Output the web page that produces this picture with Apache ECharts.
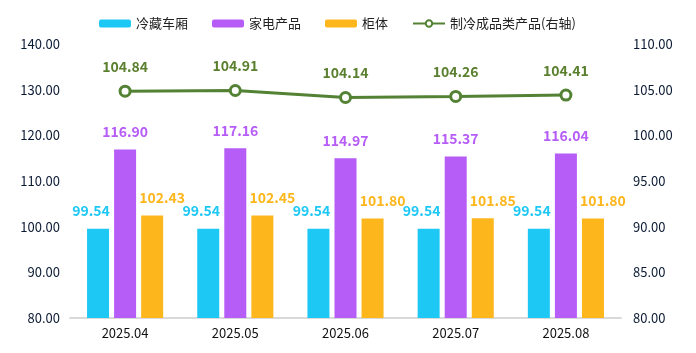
<!DOCTYPE html>
<html><head><meta charset="utf-8">
<script src="https://cdn.jsdelivr.net/npm/echarts@6/dist/echarts.min.js"></script>
<style>html,body{margin:0;padding:0;background:#fff}#c{width:696px;height:353px}</style>
</head><body><div id="c"></div>
<script>
const categories = ['2025.04','2025.05','2025.06','2025.07','2025.08'];
const coldTruck = [99.54, 99.54, 99.54, 99.54, 99.54];
const appliances = [116.90, 117.16, 114.97, 115.37, 116.04];
const cabinets = [102.43, 102.45, 101.80, 101.85, 101.80];
const refrigTotal = [104.84, 104.91, 104.14, 104.26, 104.41];
const leftTicks = {min: 80, max: 140, interval: 10};
const rightTicks = {min: 80, max: 110, interval: 5};

const font = '"Microsoft YaHei","Noto Sans CJK SC",sans-serif';
const chart = echarts.init(document.getElementById('c'));
function barLabel(color, dx){
  return {show:true, position:'top', distance:11, offset:[dx,0], color:color, fontWeight:'bold', fontSize:14, fontFamily:font,
    formatter:p=>p.value.toFixed(2)};
}
chart.setOption({
  animation:false,
  textStyle:{fontFamily:font},
  legend:{top:12, left:94, itemWidth:32, itemHeight:8, itemGap:24,
    textStyle:{fontSize:13, color:'#222', fontFamily:font},
    data:['冷藏车厢','家电产品','柜体','制冷成品类产品(右轴)']},
  grid:{left:70, right:75, top:44, bottom:35},
  xAxis:{type:'category', data:categories,
    axisLine:{lineStyle:{color:'#d9d9d9', width:2}}, axisTick:{show:false},
    axisLabel:{color:'#111', fontSize:13, margin:9, fontFamily:font}},
  yAxis:[
    {type:'value', min:leftTicks.min, max:leftTicks.max, interval:leftTicks.interval,
     splitLine:{show:false}, axisLine:{show:false}, axisTick:{show:false},
     axisLabel:{color:'#0b1a33', fontSize:13, margin:10, formatter:v=>v.toFixed(2)}},
    {type:'value', min:rightTicks.min, max:rightTicks.max, interval:rightTicks.interval,
     splitLine:{show:false}, axisLine:{show:false}, axisTick:{show:false},
     axisLabel:{color:'#0b1a33', fontSize:13, margin:12, formatter:v=>v.toFixed(2)}}
  ],
  series:[
    {name:'冷藏车厢', type:'bar', data:coldTruck, barWidth:22, barGap:'23%',
     itemStyle:{color:'#1EC8F5'}, label:barLabel('#1EC8F5', -7)},
    {name:'家电产品', type:'bar', data:appliances, barWidth:22, barGap:'23%',
     itemStyle:{color:'#B65CF7'}, label:barLabel('#B65CF7', 0)},
    {name:'柜体', type:'bar', data:cabinets, barWidth:22, barGap:'23%',
     itemStyle:{color:'#FDB61B'}, label:barLabel('#FDB61B', 10)},
    {name:'制冷成品类产品(右轴)', type:'line', yAxisIndex:1, data:refrigTotal,
     symbol:'circle', symbolSize:10, lineStyle:{color:'#548235', width:3},
     itemStyle:{color:'#fff', borderColor:'#548235', borderWidth:3},
     label:{show:true, position:'top', distance:11, color:'#5A7F2E', fontWeight:'bold', fontSize:14,
       formatter:p=>p.value.toFixed(2)}}
  ]
});
</script></body></html>
